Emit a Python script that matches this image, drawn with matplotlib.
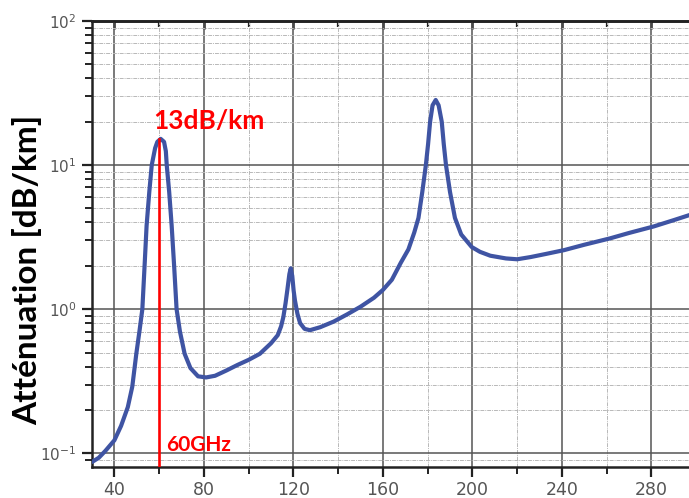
import matplotlib
matplotlib.use("Agg")
import matplotlib.pyplot as plt
from matplotlib.ticker import MultipleLocator, LogLocator, NullFormatter, FixedFormatter

plt.rcParams['mathtext.fontset'] = 'custom'
plt.rcParams['mathtext.rm'] = 'Liberation Sans'
plt.rcParams['mathtext.default'] = 'regular'

# frequency [GHz] and attenuation [dB/km]
freq = [30, 33, 36, 40, 43, 46, 48, 49.8, 51.3, 52.5, 53.5, 54.4, 55.6, 56.7,
        58.2, 59.2, 60.7, 62.2, 63.0, 63.4, 64.5, 65.6, 66.7, 67.8, 69.3, 71.4,
        74, 77.4, 81, 85, 90, 95, 100, 105, 110, 113, 114.5, 115.5, 116.5,
        117.3, 118.2, 118.8, 119.5, 120.1, 120.7, 121.8, 123, 125, 127.4, 132,
        138, 144, 150, 156, 160, 164, 168, 171.4, 174, 175.9, 177.6, 179.2,
        180.2, 181.1, 182.2, 183.6, 184.9, 186.3, 187.2, 188.2, 190, 192.2, 195,
        199.7, 203.4, 208, 215, 220, 226, 233, 241, 250, 261.5, 270, 281, 290,
        297]
atten = [0.087, 0.093, 0.104, 0.123, 0.155, 0.209, 0.29, 0.49, 0.72, 1.0, 2.0,
         3.8, 6.5, 10.0, 13.1, 14.5, 15.2, 14.5, 12.5, 10.0, 6.5, 3.8, 2.0, 1.0,
         0.7, 0.49, 0.39, 0.342, 0.336, 0.345, 0.375, 0.41, 0.445, 0.49, 0.58,
         0.66, 0.76, 0.88, 1.1, 1.36, 1.75, 1.92, 1.7, 1.35, 1.15, 0.93, 0.80,
         0.73, 0.715, 0.75, 0.82, 0.92, 1.04, 1.2, 1.36, 1.6, 2.1, 2.6, 3.4, 4.3,
         6.5, 10.0, 14.0, 20.0, 26.0, 28.3, 26.0, 20.0, 14.0, 10.0, 6.5, 4.3,
         3.3, 2.7, 2.5, 2.35, 2.25, 2.22, 2.3, 2.42, 2.57, 2.8, 3.1, 3.38, 3.75,
         4.15, 4.5]

x_ticks = [40, 80, 120, 160, 200, 240, 280]
y_ticks = [0.1, 1, 10, 100]
y_tick_labels = ['$10^{-1}$', '$10^{0}$', '$10^{1}$', '$10^{2}$']

marker_freq = 60
marker_atten = 15.2

fig = plt.figure(figsize=(6.89, 4.98), dpi=100)
ax = fig.add_axes([92 / 689, 1 - 467 / 498, 1 - 92 / 689, (467 - 21) / 498])

ax.plot(freq, atten, color='#3f54a3', lw=3.0, solid_capstyle='round',
        solid_joinstyle='round', zorder=3)
ax.plot([marker_freq, marker_freq], [0.08, marker_atten], color='#ff0000', lw=1.9, zorder=4)

ax.set_yscale('log')
ax.set_xlim(30, 296.8)
ax.set_ylim(0.0803, 100)

ax.xaxis.set_minor_locator(MultipleLocator(20))
ax.set_xticks(x_ticks)
ax.set_yticks(y_ticks)
ax.yaxis.set_major_formatter(FixedFormatter(y_tick_labels))
ax.yaxis.set_minor_locator(LogLocator(base=10, subs=range(2, 10)))
ax.yaxis.set_minor_formatter(NullFormatter())

ax.grid(which='major', color='#555555', lw=1.1, ls='-')
ax.grid(which='minor', color='#b8b8b8', lw=0.7, ls=(0, (4, 1, 1, 1)))
ax.set_axisbelow(True)

for side in ['left', 'bottom', 'top']:
    ax.spines[side].set_linewidth(1.8)
    ax.spines[side].set_color('#222222')
ax.spines['right'].set_visible(False)

ax.tick_params(axis='both', which='major', direction='out', length=7, width=1.6,
               color='#222222', labelcolor='#555555')
ax.tick_params(axis='both', which='minor', direction='out', length=5, width=1.4,
               color='#222222')
ax.tick_params(axis='x', which='major', pad=3, labelsize=12.5)
ax.tick_params(axis='y', which='major', pad=4, labelsize=11)

# inward ticks along the top edge
top = ax.secondary_xaxis('top')
top.xaxis.set_major_locator(MultipleLocator(40))
top.xaxis.set_minor_locator(MultipleLocator(20))
top.tick_params(which='major', direction='in', length=6, width=1.8, color='#222222',
                labeltop=False)
top.tick_params(which='minor', direction='in', length=4, width=1.6, color='#222222')
top.spines['top'].set_linewidth(1.8)

ax.text(57.3, 17.8, '13dB/km', color='#ff0000', fontsize=19, fontweight='bold',
        family=['Lato', 'DejaVu Sans'], ha='left', va='baseline')
ax.text(63.1, 0.103, '60GHz', color='#ff0000', fontsize=15, fontweight='bold',
        family=['Lato', 'DejaVu Sans'], ha='left', va='baseline')

fig.text(27 / 689, 1 - 270 / 498, 'Atténuation [dB/km]', rotation=90, fontsize=24,
         fontweight='bold', family=['Lato', 'DejaVu Sans'], color='black',
         ha='center', va='center')

fig.savefig('out.png', dpi=100)
